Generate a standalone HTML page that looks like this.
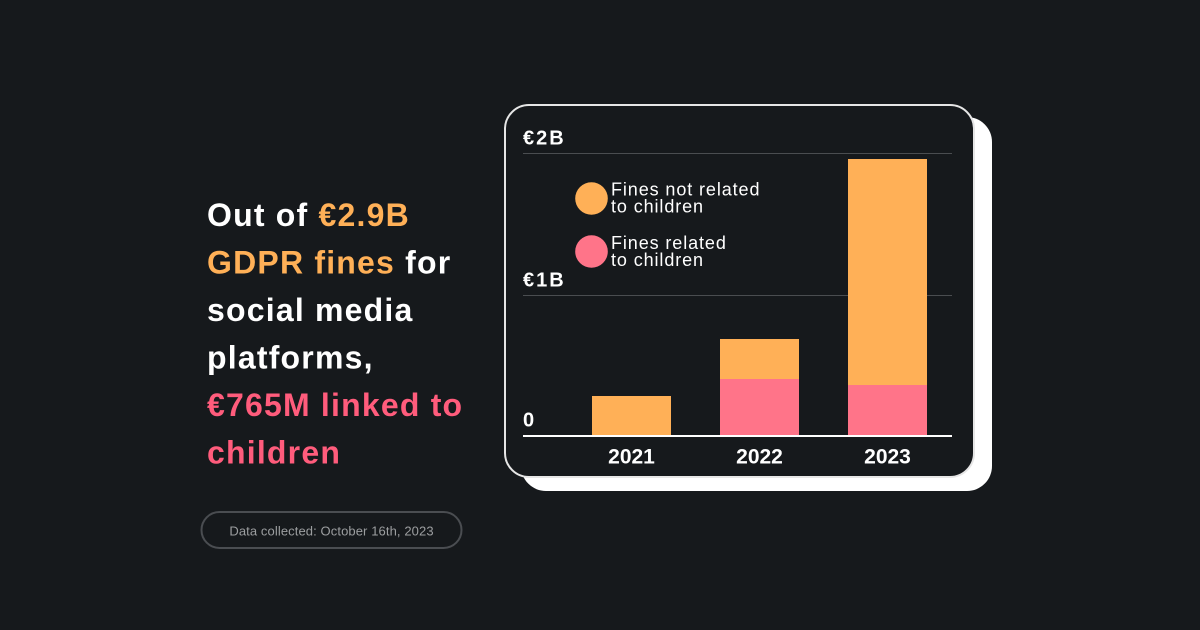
<!DOCTYPE html>
<html>
<head>
<meta charset="utf-8">
<style>
  html, body { margin:0; padding:0; background:#16191c; }
  body { width:1200px; height:630px; overflow:hidden; position:relative; }
  svg { position:absolute; left:0; top:0; }
</style>
</head>
<body>
<svg width="1200" height="630" viewBox="0 0 1200 630" xmlns="http://www.w3.org/2000/svg">
  <rect x="0" y="0" width="1200" height="630" fill="#16191c"/>

  <!-- Headline -->
  <g font-family="Liberation Sans, sans-serif" font-weight="bold" font-size="32" letter-spacing="1.2" fill="#ffffff">
    <text x="207" y="226">Out of <tspan fill="#ffb057">€2.9B</tspan></text>
    <text x="207" y="273.5"><tspan fill="#ffb057">GDPR fines</tspan> for</text>
    <text x="207" y="321">social media</text>
    <text x="207" y="368.5">platforms,</text>
    <text x="207" y="416" fill="#ff5c7c">€765M linked to</text>
    <text x="207" y="463.5" fill="#ff5c7c">children</text>
  </g>

  <!-- Data collected pill -->
  <rect x="201.5" y="512" width="260" height="36" rx="18" ry="18" fill="none" stroke="#4a4d51" stroke-width="2"/>
  <text x="331.5" y="535.5" text-anchor="middle" font-family="Liberation Sans, sans-serif" font-size="13" letter-spacing="0.1" fill="#9c9ea0">Data collected: October 16th, 2023</text>

  <!-- Shadow card -->
  <rect x="521" y="117" width="471" height="374" rx="25" ry="25" fill="#ffffff"/>
  <!-- Main card -->
  <rect x="505" y="105" width="469" height="372" rx="24" ry="24" fill="#16191c" stroke="#e6e6e6" stroke-width="2"/>

  <!-- Gridlines -->
  <line x1="523" y1="153.5" x2="952" y2="153.5" stroke="#4a4d50" stroke-width="1"/>
  <line x1="523" y1="295.5" x2="952" y2="295.5" stroke="#4a4d50" stroke-width="1"/>

  <!-- Axis labels -->
  <g font-family="Liberation Sans, sans-serif" font-weight="bold" font-size="20" letter-spacing="2" fill="#ffffff">
    <text x="523" y="144.5">€2B</text>
    <text x="523" y="286.5">€1B</text>
    <text x="523" y="426.5">0</text>
  </g>

  <!-- Bars -->
  <rect x="592" y="396" width="79" height="40" fill="#ffb057"/>
  <rect x="720" y="339" width="79" height="41" fill="#ffb057"/>
  <rect x="720" y="379" width="79" height="57" fill="#ff7489"/>
  <rect x="848" y="159" width="79" height="227" fill="#ffb057"/>
  <rect x="848" y="385" width="79" height="51" fill="#ff7489"/>

  <!-- Baseline -->
  <rect x="523" y="435" width="429" height="2" fill="#ffffff"/>

  <!-- Year labels -->
  <g font-family="Liberation Sans, sans-serif" font-weight="bold" font-size="21" fill="#ffffff" text-anchor="middle">
    <text x="631.5" y="463.5">2021</text>
    <text x="759.5" y="463.5">2022</text>
    <text x="887.5" y="463.5">2023</text>
  </g>

  <!-- Legend -->
  <circle cx="591.5" cy="198.5" r="16.3" fill="#ffb057"/>
  <circle cx="591.5" cy="251.5" r="16.3" fill="#ff7489"/>
  <g font-family="Liberation Sans, sans-serif" font-size="18" letter-spacing="0.9" fill="#ffffff">
    <text x="611" y="195.7">Fines not related</text>
    <text x="611" y="212.5">to children</text>
    <text x="611" y="249">Fines related</text>
    <text x="611" y="265.8">to children</text>
  </g>
</svg>
</body>
</html>
